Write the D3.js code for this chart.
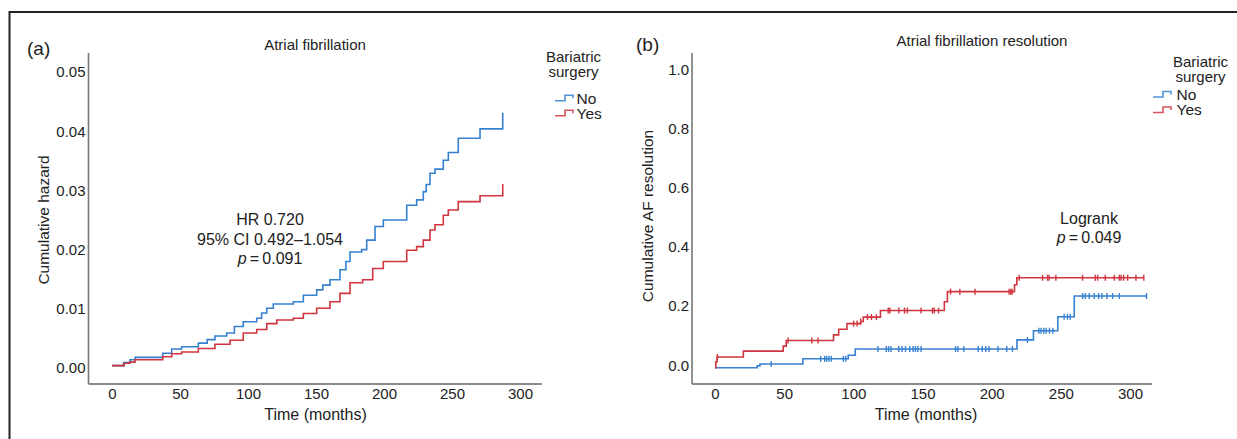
<!DOCTYPE html>
<html><head><meta charset="utf-8">
<script src="https://cdn.jsdelivr.net/npm/d3@7"></script>
<style>
body{margin:0;background:#fff;}
text{font-family:"Liberation Sans",Arial,sans-serif;fill:#222;}
</style></head>
<body><svg id="c" width="1237" height="439"></svg>
<script>
// ---------- data ----------
const xTicks = [0, 50, 100, 150, 200, 250, 300];
const aYTicks = [0, 0.01, 0.02, 0.03, 0.04, 0.05];
const bYTicks = [0, 0.2, 0.4, 0.6, 0.8, 1.0];

// Panel (a): cumulative hazard, step times (months) and values
const aNoTime = [0, 8.5, 13.2, 17, 37.3, 43.9, 51.2, 63.5, 70, 75.7, 84.3, 90, 96.5, 106.4, 110, 113.8, 118.6, 133.3, 140.7, 150.5, 155, 160.3, 167.6, 172, 175, 183.6, 187.3, 193.4, 199.5, 216.7, 224, 228.9, 231, 233.8, 237.5, 243.6, 247.3, 254.6, 270.6, 287.3];
const aNoHaz = [0.0004, 0.0009, 0.0014, 0.0018, 0.0025, 0.0032, 0.0036, 0.0042, 0.0048, 0.0054, 0.0059, 0.007, 0.0078, 0.0084, 0.0093, 0.0101, 0.0108, 0.0112, 0.0123, 0.0132, 0.014, 0.0149, 0.0166, 0.018, 0.0196, 0.02, 0.0216, 0.0239, 0.025, 0.0275, 0.0284, 0.0298, 0.031, 0.0329, 0.0336, 0.0351, 0.0364, 0.0388, 0.0404, 0.0431];
const aYesTime = [0, 9, 13, 16.9, 37.3, 43.9, 51.2, 63.5, 75.7, 86.8, 96.5, 106.4, 113.8, 121.2, 133.3, 140.7, 150.5, 160.3, 167.6, 175, 184.3, 191.7, 199.5, 216.7, 224, 228.9, 233.8, 237.5, 243.6, 247.3, 254.6, 270.6, 287.3];
const aYesHaz = [0.0004, 0.0008, 0.001, 0.0014, 0.0019, 0.0024, 0.0027, 0.0033, 0.004, 0.0047, 0.0059, 0.0065, 0.0075, 0.0081, 0.0084, 0.0092, 0.0101, 0.0112, 0.0126, 0.0144, 0.0149, 0.0168, 0.018, 0.0199, 0.0205, 0.0216, 0.0233, 0.0242, 0.0258, 0.0267, 0.0281, 0.0291, 0.0311];

// Panel (b): cumulative AF resolution
const bNoTime = [0, 30.5, 32.5, 63.5, 96.3, 101.4, 218.3, 230.2, 247.8, 259.7, 312];
const bNoVal  = [0, 0.006, 0.0125, 0.03, 0.042, 0.063, 0.094, 0.125, 0.172, 0.242, 0.242];
const bYesTime = [0, 0.6, 1.5, 20.5, 49.3, 51.5, 85.7, 89.4, 95.4, 105.3, 107.2, 119.6, 165.8, 168, 216.5, 218.2, 310];
const bYesVal  = [0, 0.02, 0.036, 0.056, 0.073, 0.092, 0.111, 0.13, 0.149, 0.156, 0.171, 0.193, 0.223, 0.257, 0.28, 0.304, 0.304];
const bNoCens = [40.6, 76.4, 79.3, 80.7, 82.4, 84.1, 92.8, 94.5, 117.8, 123.8, 125.5, 127.2, 132.8, 135.2, 137.7, 140.8, 143.2, 144.9, 146.6, 149, 173.9, 175.6, 179.9, 190.3, 193.2, 195.7, 198.1, 204.6, 210.9, 215, 225.9, 234.1, 235.7, 237.7, 239.4, 241.8, 244.2, 252.4, 254.8, 256.8, 265.7, 267.6, 270.5, 274.2, 277.3, 279.7, 283.3, 287.4, 292.3, 312];
const bYesCens = [1.7, 52.8, 70, 74.5, 100.2, 102.7, 105.3, 110.2, 113.1, 116.7, 125.2, 126.4, 132.9, 137, 139, 149, 157.2, 158.5, 161.6, 170.3, 177, 188, 212.6, 213.8, 214.8, 219.9, 236.8, 240.4, 241.5, 246.4, 265.7, 274.9, 276.6, 282.1, 288.6, 292.3, 293.5, 295.4, 298.3, 304.3, 310];

const groups = ["No", "Yes"];
const colors = {No: "#3580d0", Yes: "#d0343f"};

// ---------- drawing ----------
const svg = d3.select("#c");
// frame
svg.append("path").attr("d", "M9.5,439 V12 H1237").attr("fill", "none")
  .attr("stroke", "#222").attr("stroke-width", 2);

function panel(o) {
  const g = svg.append("g");
  const x = d3.scaleLinear().domain([0, 300]).range(o.xr);
  const y = d3.scaleLinear().domain(o.yd).range(o.yr);
  // axes
  const ax = g.append("g").attr("transform", `translate(0,${o.axisY + 4.5})`)
    .call(d3.axisBottom(x).tickValues(xTicks).tickSize(0).tickPadding(0));
  ax.select(".domain").remove();
  ax.selectAll("text").style("font-size", "15px").attr("fill", "#222");
  const ay = g.append("g").attr("transform", `translate(${o.axisX - 3},${-o.labOff})`)
    .call(d3.axisLeft(y).tickValues(o.yTicks).tickFormat(d3.format(o.fmt)).tickSize(0).tickPadding(0));
  ay.select(".domain").remove();
  ay.selectAll("text").style("font-size", "15px").attr("fill", "#222");
  g.append("line").attr("x1", o.axisX).attr("x2", o.xEnd).attr("y1", o.axisY).attr("y2", o.axisY)
    .attr("stroke", "#8a8a8a").attr("stroke-width", 2);
  g.append("line").attr("x1", o.axisX).attr("x2", o.axisX).attr("y1", o.yTop).attr("y2", o.axisY)
    .attr("stroke", "#777").attr("stroke-width", 1.6);
  // curves
  const line = d3.line().curve(d3.curveStepAfter).x(d => x(d[0])).y(d => y(d[1]));
  o.series.forEach(s => {
    const pts = d3.zip(s.t, s.v);
    g.append("path").datum(pts).attr("d", line).attr("fill", "none")
      .attr("stroke", colors[s.key]).attr("stroke-width", 1.6);
    if (s.c) {
      const bis = d3.bisector(d => d).right;
      g.selectAll(null).data(s.c).join("line")
        .attr("x1", d => x(d)).attr("x2", d => x(d))
        .attr("y1", d => y(s.v[Math.max(0, bis(s.t, d) - 1)]) - 3)
        .attr("y2", d => y(s.v[Math.max(0, bis(s.t, d) - 1)]) + 3)
        .attr("stroke", colors[s.key]).attr("stroke-width", 1.4);
    }
  });
  // titles
  g.append("text").attr("x", o.panX).attr("y", o.panY).style("font-size", "19px").text(o.panel);
  g.append("text").attr("x", o.titleX).attr("y", o.titleY).attr("text-anchor", "middle")
    .attr("dy", "0.35em").style("font-size", "15px").text(o.title);
  g.append("text").attr("x", o.xlabX).attr("y", 414).attr("dy", "0.35em").attr("text-anchor", "middle")
    .style("font-size", "16px").text("Time (months)");
  g.append("text").attr("transform", `translate(${o.ylabX},${o.ylabY}) rotate(-90)`)
    .attr("dy", "0.35em").attr("text-anchor", "middle").style("font-size", "15.5px").text(o.ylab);
  // legend
  const L = o.leg;
  g.append("text").attr("x", L.cx).attr("y", L.y1).attr("dy", "0.35em").attr("text-anchor", "middle")
    .style("font-size", "15px").text("Bariatric");
  g.append("text").attr("x", L.cx).attr("y", L.y1 + 15).attr("dy", "0.35em").attr("text-anchor", "middle")
    .style("font-size", "15px").text("surgery");
  groups.forEach((k, i) => {
    const yy = L.y2 + i * L.gap;
    g.append("path").attr("d", `M${L.sx},${yy + 2.5} H${L.sx + 10} V${yy - 3} H${L.sx + 18} V${yy}`)
      .attr("fill", "none").attr("stroke", colors[k]).attr("stroke-width", 1.6).attr("opacity", 0.85);
    g.append("text").attr("x", L.tx).attr("y", yy).attr("dy", "0.35em").style("font-size", "15.5px").text(k);
  });
  // annotation
  o.ann.forEach((a, i) => {
    const t = g.append("text").attr("x", o.annX).attr("y", o.annY + i * o.annGap).attr("dy", "0.35em")
      .attr("text-anchor", "middle").style("font-size", "16px");
    if (a.startsWith("p")) {
      t.append("tspan").style("font-style", "italic").text("p");
      t.append("tspan").text(a.slice(1));
    } else t.text(a);
  });
}

panel({
  xr: [112, 520], yd: [0, 0.05], yr: [368, 72], yTicks: aYTicks, fmt: ".2f", labOff: 0,
  axisX: 88.5, axisY: 384, xEnd: 542, yTop: 53,
  series: [{key: "No", t: aNoTime, v: aNoHaz}, {key: "Yes", t: aYesTime, v: aYesHaz}],
  panel: "(a)", panX: 27, panY: 55, title: "Atrial fibrillation", titleX: 315, titleY: 45,
  xlabX: 315.5, ylab: "Cumulative hazard", ylabX: 44, ylabY: 220,
  leg: {cx: 573.5, y1: 57, y2: 98.3, gap: 15, sx: 555, tx: 576.5},
  ann: ["HR 0.720", "95% CI 0.492\u20131.054", "p\u2009=\u20090.091"], annX: 270, annY: 219.5, annGap: 19.6
});

panel({
  xr: [715, 1130], yd: [0, 1], yr: [367.7, 71.7], yTicks: bYTicks, fmt: ".1f", labOff: 2.5,
  axisX: 692, axisY: 384, xEnd: 1152, yTop: 53,
  series: [{key: "No", t: bNoTime, v: bNoVal, c: bNoCens}, {key: "Yes", t: bYesTime, v: bYesVal, c: bYesCens}],
  panel: "(b)", panX: 636, panY: 51, title: "Atrial fibrillation resolution", titleX: 982, titleY: 41,
  xlabX: 926, ylab: "Cumulative AF resolution", ylabX: 648, ylabY: 216,
  leg: {cx: 1200.5, y1: 62, y2: 94.5, gap: 15.5, sx: 1153, tx: 1176.5},
  ann: ["Logrank", "p\u2009=\u20090.049"], annX: 1089, annY: 218.5, annGap: 19
});
</script></body></html>
